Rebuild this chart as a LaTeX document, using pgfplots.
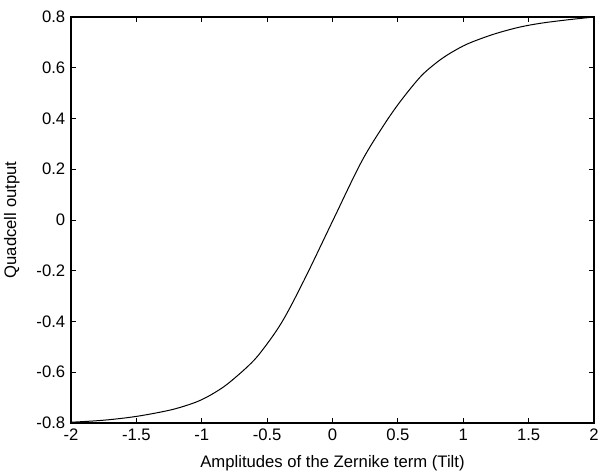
\documentclass[border=0pt]{standalone}
\usepackage{pgfplots}
\pgfplotsset{compat=1.18}
\usepackage{fontspec}
\setmainfont{Liberation Sans}
\begin{document}
\fontsize{12.5}{14}\selectfont
\begin{tikzpicture}
\useasboundingbox (-53.25pt,-39pt) rectangle (397.5pt,317.25pt);
\begin{axis}[
  at={(0pt,0pt)}, anchor=south west,
  scale only axis, width=392.25pt, height=304.5pt,
  xmin=-2, xmax=2, ymin=-0.8, ymax=0.8,
  xtick={-2,-1.5,-1,-0.5,0,0.5,1,1.5,2},
  ytick={-0.8,-0.6,-0.4,-0.2,0,0.2,0.4,0.6,0.8},
  tick align=inside, major tick length=4pt,
  axis line style={line width=0.8pt},
  every tick/.style={black, line width=0.7pt},
  /pgf/number format/assume math mode=true,
  /pgf/number format/fixed,
  /pgf/number format/precision=1,
  tick label style={font=\fontsize{12.5}{14}\selectfont},
  label style={font=\fontsize{12.5}{14}\selectfont},
  xlabel={Amplitudes of the Zernike term (Tilt)},
  ylabel={Quadcell output},
  xlabel style={at={(axis description cs:0.5,0)}, anchor=center, yshift=-30pt},
  ylabel style={at={(axis description cs:-0.113,0.5)}, anchor=center},
]
\addplot[black, line width=0.75pt, smooth, tension=0.55] coordinates {
(-2.0,-0.797) (-1.75,-0.789) (-1.5,-0.774) (-1.25,-0.750) (-1.1,-0.728)
(-1.0,-0.708) (-0.9,-0.680) (-0.8,-0.645) (-0.65,-0.578) (-0.55,-0.522)
(-0.39,-0.405) (-0.22,-0.240) (0.0,-0.005) (0.22,0.228) (0.39,0.372)
(0.52,0.468) (0.67,0.563) (0.78,0.614) (0.88,0.651) (1.0,0.686)
(1.1,0.708) (1.25,0.735) (1.43,0.760) (1.6,0.776) (1.8,0.789) (2.0,0.800)
};
\end{axis}
\end{tikzpicture}
\end{document}
